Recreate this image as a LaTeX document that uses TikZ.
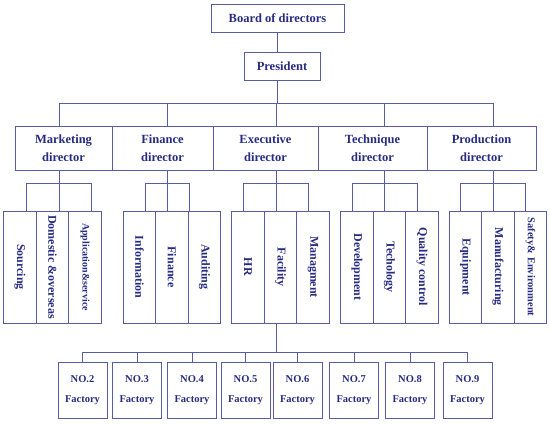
\documentclass[tikz,border=0pt]{standalone}
\usepackage{graphicx}
\usepackage{fontspec}
\setmainfont{Liberation Serif}

\definecolor{ink}{RGB}{40,44,128}
\definecolor{rule}{RGB}{88,92,165}

\begin{document}
\begin{tikzpicture}[x=1pt, y=-1pt, line width=0.8pt, draw=rule,
    box/.style={draw=rule, text=ink, align=center, inner sep=0pt,
        font=\bfseries\fontsize{12.5}{18}\selectfont},
    unit/.style={box, minimum width=32.5pt, minimum height=112pt,
        font=\bfseries\fontsize{12}{14}\selectfont},
    plant/.style={box, minimum width=49pt, minimum height=56pt,
        font=\bfseries\fontsize{10.5}{20}\selectfont}]
    \useasboundingbox (0,0) rectangle (550,425);

    \node[box, minimum width=133pt, minimum height=28pt] (board) at (277.5,18) {Board of directors};
    \node[box, minimum width=76pt, minimum height=28pt] (pres) at (282,66.5) {President};

    \foreach \n/\x/\w/\s/\txt in {mkt/63.5/97/-4.5/Marketing, fin/162.5/101/4.5/Finance,
        exe/265.5/105/11/Executive, tech/372.5/109/11.5/Technique, prod/481.5/109/11.5/Production}{
        \node[box, minimum width=\w pt, minimum height=44pt] (\n) at (\x,148) {\txt\\director};
        \coordinate (\n-up) at ([xshift=\s]\n.north);
        \coordinate (\n-dn) at ([xshift=\s]\n.south);
    }

    \foreach \n/\x/\s/\txt in {
        mkt1/20/6/Sourcing, mkt2/52.5/6.5/Domestic \&overseas,
        mkt3/85/6/{\fontsize{10}{12}\selectfont Application\&service},
        fin1/139.5/5.5/Information, fin2/172/-5/Finance, fin3/204.5/-15.5/Auditing,
        exe1/248/-5/HR, exe2/280.5/-4/Facility, exe3/313/-5/Managment,
        tech1/357/-5/Development, tech2/389.5/-5.5/Techology, tech3/422/-5/Quality control,
        prod1/465.5/-5.5/Equipment, prod2/498/-5/Manufacturing,
        prod3/530.5/-5.5/{\fontsize{10.5}{12}\selectfont Safety\& Environment}}{
        \node[unit] (\n) at (\x,267) {\rotatebox{-90}{\txt}};
        \coordinate (\n-tap) at ([xshift=\s]\n.north);
    }

    \foreach \i/\x in {2/82.5, 3/137, 4/192, 5/245.5, 6/297.5, 7/354, 8/410, 9/467.5}
        \node[plant] (no\i) at (\x,390) {NO.\i\\Factory};

    \coordinate (bus) at (0,103);
    \coordinate (sub) at (0,183);
    \coordinate (fbus) at (0,352);

    \draw (board.south) -- (board.south |- pres.north);
    \draw (board.south |- pres.south) -- (board.south |- bus);
    \draw (mkt-up |- bus) -- (prod-up |- bus);
    \foreach \d in {mkt, fin, exe, tech, prod}{
        \draw (\d-up |- bus) -- (\d-up);
        \draw (\d-dn) -- (\d2-tap);
        \draw (\d1-tap |- sub) -- (\d3-tap |- sub);
        \draw (\d1-tap |- sub) -- (\d1-tap);
        \draw (\d3-tap |- sub) -- (\d3-tap);
    }

    \draw (exe2-tap |- exe2.south) -- (exe2-tap |- fbus);
    \draw (no2.north |- fbus) -- (no9.north |- fbus);
    \foreach \i in {2,...,9}
        \draw (no\i.north |- fbus) -- (no\i.north);
\end{tikzpicture}
\end{document}
